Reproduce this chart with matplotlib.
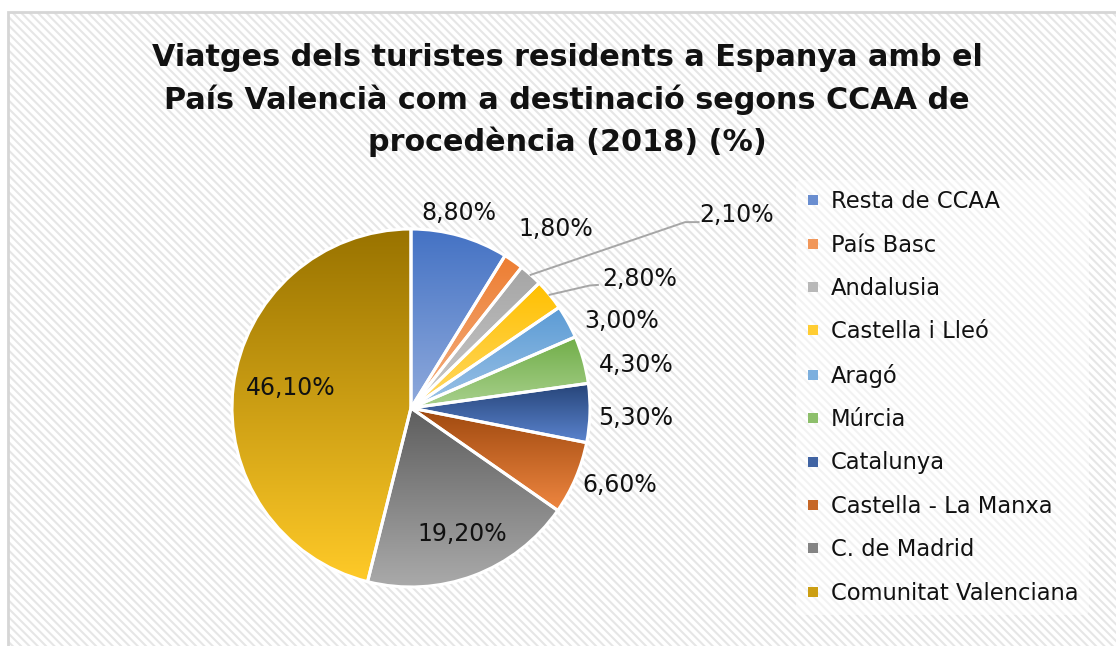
import numpy as np
import matplotlib
matplotlib.use("Agg")
import matplotlib.pyplot as plt
from matplotlib.patches import Rectangle
from matplotlib.lines import Line2D
from matplotlib.colors import to_rgb

regions = ["Resta de CCAA", "País Basc", "Andalusia", "Castella i Lleó", "Aragó",
           "Múrcia", "Catalunya", "Castella - La Manxa", "C. de Madrid",
           "Comunitat Valenciana"]
shares = [8.8, 1.8, 2.1, 2.8, 3.0, 4.3, 5.3, 6.6, 19.2, 46.1]
title_lines = ["Viatges dels turistes residents a Espanya amb el",
               "País Valencià com a destinació segons CCAA de",
               "procedència (2018) (%)"]

# gradient colours (top, bottom) per slice
top_cols = ["#4472C4", "#ED7D31", "#A5A5A5", "#FFC000", "#5B9BD5",
            "#70AD47", "#264478", "#9E480E", "#5E5E5E", "#997300"]
bot_cols = ["#8FAADC", "#F4B183", "#CACACA", "#FFD966", "#9DC3E6",
            "#A9D18E", "#5B84CF", "#EE8640", "#AAAAAA", "#FFCA28"]

# label placement (radius in pie radii, angle in degrees) - Excel-like layout
label_pos = [(1.138, 76.4), (1.296, 51.3), (2.125, 31.0), (1.474, 29.8),
             (1.279, 22.9), (1.283, 11.55), (1.258, -2.0), (1.239, -19.5),
             (0.744, -67.5), (0.682, 169.6)]
leader = {2: [(-0.29, -0.056), (-0.215, -0.056)],
          3: [(-0.28, -0.048), (-0.235, -0.045)]}

plt.rcParams['font.family'] = ['DejaVu Sans']
plt.rcParams['hatch.linewidth'] = 1.5

W, H = 1116, 646
fig = plt.figure(figsize=(W / 100, H / 100), dpi=100)
fig.patch.set_facecolor("white")

# chart area: hatched background + border
bg = Rectangle((8 / W, -0.1), 1.2, 1 - 12 / H + 0.1, transform=fig.transFigure,
               facecolor="white", edgecolor="#e6e6e6", hatch="\\" * 4, lw=0, zorder=-3)
fig.patches.append(bg)
border = Rectangle((8 / W, -0.1), 1.2, 1 - 12 / H + 0.1, transform=fig.transFigure,
                   fill=False, edgecolor="#d6d6d6", lw=2, zorder=-2)
fig.patches.append(border)

# title
for i, line in enumerate(title_lines):
    fig.text(567 / W, 1 - (57 + 42.5 * i) / H, line, ha="center", va="center",
             fontsize=21.8, fontweight="bold", color="#111111")

# pie axes
cx, cy, R = 411, 408, 179
ax = fig.add_axes([(cx - R) / W, (H - cy - R) / H, 2 * R / W, 2 * R / H])
ax.set_axis_off()
wedges, _ = ax.pie(shares, startangle=90, counterclock=False, radius=1,
                   colors=top_cols,
                   wedgeprops=dict(edgecolor="white", linewidth=2.2))

grad = np.linspace(0, 1, 256)[:, None]
for w, c0, c1 in zip(wedges, top_cols, bot_cols):
    a, b = np.array(to_rgb(c0)), np.array(to_rgb(c1))
    img = a[None, None, :] * (1 - grad[:, :, None]) + b[None, None, :] * grad[:, :, None]
    ext = w.get_path().get_extents()
    im = ax.imshow(img, extent=(ext.x0, ext.x1, ext.y0, ext.y1), origin="upper",
                   aspect="auto", zorder=1, interpolation="bilinear")
    im.set_clip_path(w)
    w.set_facecolor("none")
    w.set_zorder(3)

ax.set_xlim(-1, 1)
ax.set_ylim(-1, 1)
ax.set_aspect("equal")

# data labels
labels = [f"{v:.2f}".replace(".", ",") + "%" for v in shares]
cum = np.cumsum([0] + shares)
mids = 90 - (cum[:-1] + np.array(shares) / 2) * 3.6
for i, (lab, m) in enumerate(zip(labels, mids)):
    r, a = label_pos[i]
    lx, ly = r * np.cos(np.deg2rad(a)), r * np.sin(np.deg2rad(a))
    ax.text(lx, ly, lab, ha="center", va="center_baseline", fontsize=17,
            color="#111111", clip_on=False, zorder=5)
    if i in leader:
        t = np.deg2rad(m)
        xs = [np.cos(t)] + [lx + d[0] for d in leader[i]]
        ys = [np.sin(t)] + [ly + d[1] for d in leader[i]]
        ax.plot(xs, ys, color="#a6a6a6", lw=1.4, clip_on=False, zorder=4)

# legend
mid_cols = [tuple((np.array(to_rgb(a)) + np.array(to_rgb(b))) / 2)
            for a, b in zip(top_cols, bot_cols)]
handles = [Line2D([], [], ls="none", marker="s", markersize=6.5, color=c,
                  markeredgewidth=0) for c in mid_cols]
leg = fig.legend(handles, regions, loc="upper left",
                 bbox_to_anchor=(796 / W, 1 - 180 / H), fontsize=16.3,
                 frameon=True, handlelength=0.6, handletextpad=0.5,
                 labelspacing=0.9, borderpad=0.45, borderaxespad=0)
leg.get_frame().set_facecolor("white")
leg.get_frame().set_alpha(0.5)
leg.get_frame().set_edgecolor("none")
for txt in leg.get_texts():
    txt.set_color("#111111")

fig.savefig("out.png", dpi=100)
